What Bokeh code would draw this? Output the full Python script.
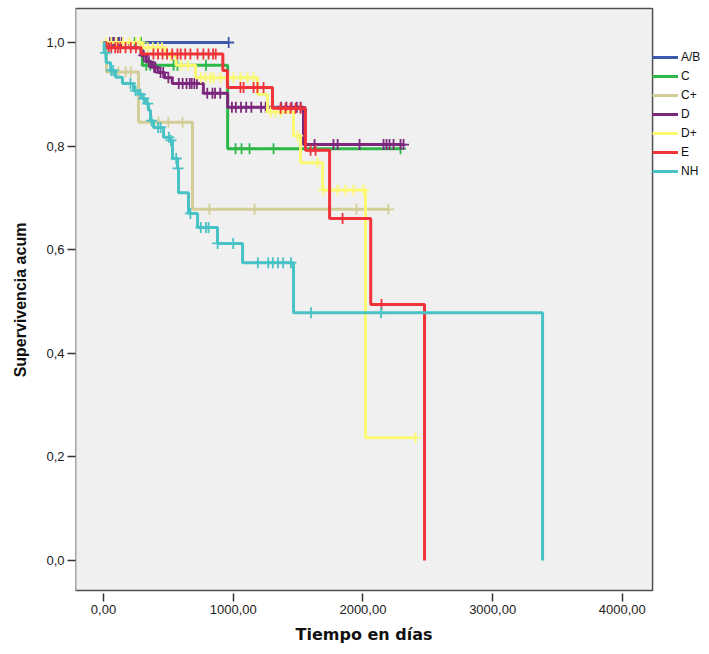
import numpy as np
from bokeh.plotting import figure
from bokeh.models import Range1d, FixedTicker, Legend, LegendItem, Title
from bokeh.embed import file_html
from bokeh.resources import INLINE

groups = ["A/B", "C", "C+", "D", "D+", "E", "NH"]
colors = ["#3E58AC", "#2EB848", "#D3CE97", "#7C287D", "#FBF873", "#EF3338", "#48C2C5"]

# event (death) times and survival after each event; censored times
times_AB = []
surv_AB = []
cens_AB = [70, 120, 965]

times_C = [300, 957]
surv_C = [0.956, 0.795]
cens_C = [240, 290, 330, 360, 540, 570, 790, 1018, 1064, 1126, 1311, 2290]

times_Cp = [23, 270, 686]
surv_Cp = [0.943, 0.846, 0.678]
cens_Cp = [115, 170, 210, 424, 500, 609, 817, 1164, 1950, 2197]

times_D = [200, 290, 330, 370, 420, 470, 530, 770, 957, 1542]
surv_D = [0.99, 0.975, 0.963, 0.952, 0.942, 0.932, 0.921, 0.902, 0.875, 0.803]
cens_D = [50, 80, 110, 140, 310, 350, 390, 400, 440, 460, 500, 580, 610, 640, 665,
          680, 700, 720, 800, 840, 860, 900, 990, 1020, 1060, 1100, 1140, 1215, 1250,
          1370, 1410, 1450, 1490, 1520, 1627, 1773, 1805, 1974, 2159, 2182, 2205, 2236,
          2290, 2313]

times_Dp = [300, 480, 560, 710, 1187, 1264, 1465, 1519, 1689, 2020]
surv_Dp = [0.99, 0.975, 0.956, 0.932, 0.90, 0.866, 0.82, 0.768, 0.715, 0.237]
cens_Dp = [20, 60, 100, 150, 200, 250, 280, 340, 380, 420, 450, 520, 600, 650, 750,
           786, 825, 848, 902, 956, 1002, 1056, 1110, 1157, 1288, 1326, 1365, 1496,
           1650, 1696, 1805, 1866, 1928, 2005, 2405]

times_E = [20, 290, 920, 955, 1303, 1557, 1743, 2060, 2475]
surv_E = [0.99, 0.978, 0.946, 0.913, 0.873, 0.792, 0.660, 0.494, 0.0]
cens_E = [40, 60, 90, 110, 130, 170, 210, 250, 385, 420, 455, 490, 530, 570, 595, 630,
          670, 725, 770, 810, 845, 865, 1056, 1080, 1157, 1187, 1234, 1365, 1403, 1442,
          1480, 1519, 1596, 1635, 1843, 2143]

times_NH = [5, 20, 55, 93, 146, 231, 270, 301, 324, 347, 362, 386, 463, 517, 532, 571,
            578, 655, 725, 879, 1072, 1465, 3385]
surv_NH = [0.98, 0.961, 0.946, 0.933, 0.921, 0.907, 0.90, 0.892, 0.882, 0.869, 0.849,
           0.836, 0.817, 0.811, 0.776, 0.757, 0.71, 0.67, 0.643, 0.612, 0.575, 0.478, 0.0]
cens_NH = [15, 60, 75, 208, 247, 285, 310, 340, 370, 420, 440, 505, 520, 560, 575, 670,
           750, 790, 810, 880, 1000, 1190, 1270, 1305, 1345, 1385, 1445, 1600, 2140]

all_times = [times_AB, times_C, times_Cp, times_D, times_Dp, times_E, times_NH]
all_surv = [surv_AB, surv_C, surv_Cp, surv_D, surv_Dp, surv_E, surv_NH]
all_cens = [cens_AB, cens_C, cens_Cp, cens_D, cens_Dp, cens_E, cens_NH]

x_ticks = [0, 1000, 2000, 3000, 4000]
x_tick_labels = ["0,00", "1000,00", "2000,00", "3000,00", "4000,00"]
y_ticks = [0.0, 0.2, 0.4, 0.6, 0.8, 1.0]
y_tick_labels = ["0,0", "0,2", "0,4", "0,6", "0,8", "1,0"]
x_title = "Tiempo en días"
y_title = "Supervivencia acum"

# plot-area (grey box) limits in data units
box_x = (-216, 4233)
box_y = (-0.058, 1.0656)

p = figure(width=709, height=654,
           x_range=Range1d(-216, 4672), y_range=Range1d(-0.0638, 1.0695),
           output_backend="svg", toolbar_location=None,
           min_border_left=75, min_border_right=0, min_border_top=6, min_border_bottom=61)
p.background_fill_color = "white"
p.border_fill_color = "white"
p.outline_line_color = None
p.grid.visible = False

p.quad(left=[box_x[0]], right=[box_x[1]], bottom=[box_y[0]], top=[box_y[1]],
       fill_color="#F0F0F0", line_color="#505050", line_width=1.5)

def surv_at(t, times, surv):
    idx = int(np.searchsorted(np.array(times, dtype=float), t, side="right"))
    return 1.0 if idx == 0 else surv[idx - 1]

items = []
for g, c, tms, sv, cs in zip(groups, colors, all_times, all_surv, all_cens):
    end = max(list(tms) + list(cs))
    xs = [0.0] + list(tms) + [end]
    ys = [1.0] + list(sv) + [sv[-1] if sv else 1.0]
    r = p.step(xs, ys, mode="after", line_color=c, line_width=3)
    cy = [surv_at(t, tms, sv) for t in cs]
    p.scatter(cs, cy, marker="cross", size=11, line_color=c, line_width=1.8)
    items.append(LegendItem(label=g, renderers=[r]))

tick_font = "Liberation Sans"
p.xaxis.ticker = FixedTicker(ticks=x_ticks)
p.xaxis.major_label_overrides = {t: l for t, l in zip(x_ticks, x_tick_labels)}
p.yaxis.ticker = FixedTicker(ticks=y_ticks)
p.yaxis.major_label_overrides = {t: l for t, l in zip(y_ticks, y_tick_labels)}
for ax in (p.xaxis, p.yaxis):
    ax.major_label_text_font = tick_font
    ax.major_label_text_font_size = "13px"
    ax.major_label_text_color = "#222222"
    ax.minor_tick_line_color = None
    ax.major_tick_in = 0
    ax.major_tick_out = 8
    ax.major_tick_line_color = "#333333"
    ax.major_tick_line_width = 1.5
    ax.axis_label_text_font_style = "bold"
    ax.axis_label_text_color = "#111111"

p.xaxis.axis_line_color = None
p.yaxis.axis_line_color = None
p.xaxis.major_label_standoff = 3
p.yaxis.axis_label = y_title
p.yaxis.axis_label_text_font = "Liberation Sans"
p.yaxis.axis_label_text_font_size = "16px"
p.yaxis.axis_label_standoff = 14
p.yaxis.major_label_standoff = 3

# x-axis title centred under the grey plot box (not under the whole frame)
xt = Title(text=x_title, align="left", offset=220, standoff=12,
           text_font="DejaVu Sans", text_font_size="16px", text_font_style="bold",
           text_color="#111111")
p.add_layout(xt, "below")

legend = Legend(items=items, location=(577, 415))
legend.label_text_font = tick_font
legend.label_text_font_size = "12px"
legend.label_text_color = "#111111"
legend.glyph_width = 26
legend.glyph_height = 14
legend.label_height = 14
legend.label_standoff = 3
legend.spacing = 5
legend.padding = 2
legend.margin = 0
legend.border_line_color = None
legend.background_fill_alpha = 0
p.add_layout(legend, "center")

open("out.html", "w").write(file_html(p, INLINE))
